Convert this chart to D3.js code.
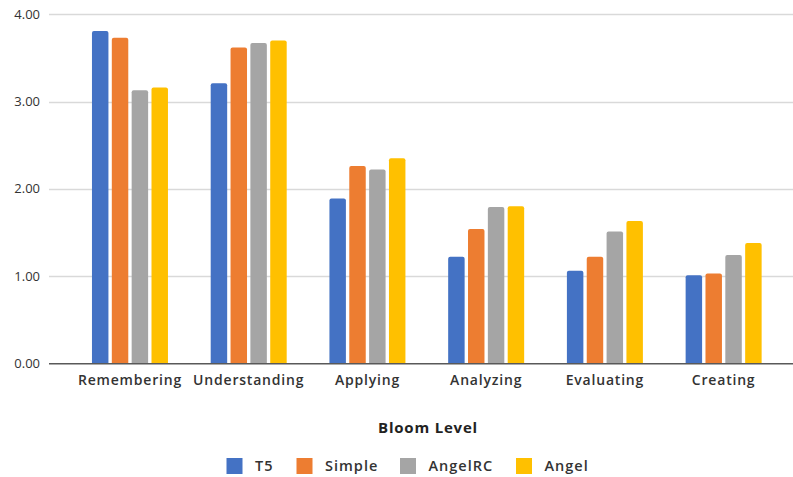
<!DOCTYPE html>
<html>
<head>
<meta charset="utf-8">
<script src="https://cdn.jsdelivr.net/npm/d3@7"></script>
<style>
  html, body { margin: 0; padding: 0; background: #fff; }
  svg { display: block; font-family: "Open Sans", sans-serif; }
</style>
</head>
<body>
<svg id="chart" width="793" height="477"></svg>
<script>
// Bloom level categories and the four model series
const categories = ["Remembering", "Understanding", "Applying", "Analyzing", "Evaluating", "Creating"];
const seriesNames = ["T5", "Simple", "AngelRC", "Angel"];
const seriesColors = ["#4472c4", "#ed7d31", "#a5a5a5", "#ffc000"];
const t5Values      = [3.81, 3.21, 1.89, 1.22, 1.06, 1.01];
const simpleValues  = [3.73, 3.62, 2.26, 1.54, 1.22, 1.03];
const angelRCValues = [3.13, 3.67, 2.22, 1.79, 1.51, 1.24];
const angelValues   = [3.16, 3.70, 2.35, 1.80, 1.63, 1.38];
const yTicks = [0, 1, 2, 3, 4];
const xTitle = "Bloom Level";

const seriesValues = [t5Values, simpleValues, angelRCValues, angelValues];
const rows = categories.map((c, i) => ({
  category: c,
  values: seriesNames.map((s, j) => ({ series: s, value: seriesValues[j][i] }))
}));

const svg = d3.select("#chart");
const plotLeft = 49, plotRight = 793;

const y = d3.scaleLinear().domain([0, 4]).range([363.3, 14.3]);
const x0 = d3.scaleBand().domain(categories).range([70.6, 783]).paddingInner(0).paddingOuter(0);
const groupWidth = 76;
const x1 = d3.scaleBand().domain(seriesNames).range([0, groupWidth]).paddingInner(0.17).paddingOuter(0);
const color = d3.scaleOrdinal().domain(seriesNames).range(seriesColors);

// horizontal gridlines
svg.append("g")
  .selectAll("line")
  .data(yTicks.filter(t => t > 0))
  .join("line")
  .attr("x1", plotLeft).attr("x2", plotRight)
  .attr("y1", d => Math.round(y(d)) + 0.5).attr("y2", d => Math.round(y(d)) + 0.5)
  .attr("stroke", "#d9d9d9").attr("stroke-width", 1.3);

// y tick labels
const yAxis = d3.axisLeft(y).tickValues(yTicks).tickFormat(d3.format(".2f")).tickSize(0).tickPadding(9);
const yg = svg.append("g").attr("transform", `translate(${plotLeft},0)`).call(yAxis);
yg.select(".domain").remove();
yg.selectAll("text").attr("font-size", 13).attr("fill", "#333").attr("font-family", "Open Sans, sans-serif");

// bars
const groups = svg.append("g")
  .selectAll("g")
  .data(rows)
  .join("g")
  .attr("transform", d => `translate(${x0(d.category) + (x0.bandwidth() - groupWidth) / 2},0)`);

groups.selectAll("path")
  .data(d => d.values)
  .join("path")
  .attr("fill", d => color(d.series))
  .attr("d", d => {
    const bx = x1(d.series), bw = x1.bandwidth();
    const top = y(d.value), bottom = y(0), r = 2;
    return `M${bx},${bottom}V${top + r}Q${bx},${top} ${bx + r},${top}H${bx + bw - r}Q${bx + bw},${top} ${bx + bw},${top + r}V${bottom}Z`;
  });

// baseline axis
const xAxis = d3.axisBottom(x0).tickSize(0).tickPadding(12);
const xg = svg.append("g").attr("transform", `translate(0,${y(0)})`).call(xAxis);
xg.select(".domain").remove();
xg.selectAll("text").attr("font-size", 14).attr("font-weight", 600).attr("fill", "#333")
  .attr("letter-spacing", "0.8px").attr("font-family", "Open Sans, sans-serif");
svg.append("line")
  .attr("x1", plotLeft).attr("x2", plotRight)
  .attr("y1", y(0) + 0.5).attr("y2", y(0) + 0.5)
  .attr("stroke", "#595959").attr("stroke-width", 1.5);

// axis title
svg.append("text")
  .attr("x", 428).attr("y", 433)
  .attr("text-anchor", "middle")
  .attr("font-size", 15).attr("font-weight", 700).attr("fill", "#222")
  .attr("letter-spacing", "0.8px")
  .text(xTitle);

// legend
const legendX = [226.5, 296.5, 400, 516];
const legend = svg.append("g")
  .selectAll("g")
  .data(seriesNames)
  .join("g")
  .attr("transform", (d, i) => `translate(${legendX[i]},458)`);
legend.append("rect").attr("width", 16).attr("height", 16).attr("fill", d => color(d));
legend.append("text")
  .attr("x", 28.5).attr("y", 13)
  .attr("font-size", 14.5).attr("font-weight", 600).attr("fill", "#333")
  .attr("letter-spacing", "1px")
  .text(d => d);
</script>
</body>
</html>
